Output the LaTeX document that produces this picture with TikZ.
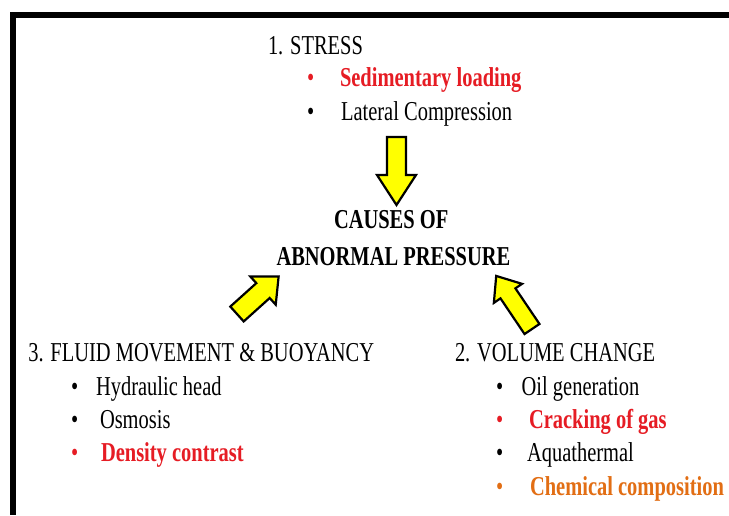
\documentclass[tikz,border=0pt]{standalone}
\usepackage{fontspec}
\setmainfont{Liberation Serif}[FakeStretch=0.75]
\definecolor{tred}{RGB}{230,28,36}
\definecolor{torange}{RGB}{226,110,20}
\definecolor{ayellow}{RGB}{255,255,0}
\tikzset{
  txt/.style={anchor=base west, inner sep=0pt, outer sep=0pt, font=\fontsize{27.3}{32}\selectfont},
  btxt/.style={txt, font=\fontsize{27.3}{32}\selectfont\bfseries},
  bul/.style={txt},
  yarr/.style={fill=ayellow, draw=black, line width=2.2pt, line join=miter},
  framebar/.style={fill=black, draw=none}
}
\newcommand{\yellowarrow}[8]{% tailx taily angle length shaftw headw headlen
  \begin{scope}[shift={(#1,#2)}, rotate=#3]
    \draw[yarr] (0,-#5/2) -- (#4-#7,-#5/2) -- (#4-#7,-#6/2) -- (#4,0) -- (#4-#7,#6/2) -- (#4-#7,#5/2) -- (0,#5/2) -- cycle;
  \end{scope}}
\begin{document}
\begin{tikzpicture}[x=1pt,y=-1pt]
\useasboundingbox (0,0) rectangle (729,515);
\fill[white] (0,0) rectangle (729,515);
% frame
\fill[framebar] (10,12) rectangle (729,18);
\fill[framebar] (10,12) rectangle (16,515);
% stress
\node[txt] (stress) at (268,54.3) {1. STRESS};
\node[bul, text=tred] (b1) at (307,86) {•};
\node[btxt, text=tred] (sed) at (340,86) {Sedimentary loading};
\node[bul] (b2) at (307,120) {•};
\node[txt] (lat) at (341,120) {Lateral Compression};
% centre
\node[btxt] (causes) at (334,228.3) {CAUSES OF};
\node[btxt] (abn) at (276.5,265) {ABNORMAL PRESSURE};
% fluid
\node[txt] (fluid) at (28.3,361.7) {3. FLUID MOVEMENT \& BUOYANCY};
\node[bul] (b3) at (71,395) {•};
\node[txt] (hyd) at (96,395) {Hydraulic head};
\node[bul] (b4) at (71,428.3) {•};
\node[txt] (osm) at (100,428.3) {Osmosis};
\node[bul, text=tred] (b5) at (71,461.7) {•};
\node[btxt, text=tred] (den) at (101,461.7) {Density contrast};
% volume
\node[txt] (vol) at (455,361.7) {2. VOLUME CHANGE};
\node[bul] (b6) at (496,395) {•};
\node[txt] (oil) at (521.7,395) {Oil generation};
\node[bul, text=tred] (b7) at (496,428.3) {•};
\node[btxt, text=tred] (crack) at (529,428.3) {Cracking of gas};
\node[bul] (b8) at (496,461.7) {•};
\node[txt] (aqua) at (527,461.7) {Aquathermal};
\node[bul, text=torange] (b9) at (496,495) {•};
\node[btxt, text=torange] (chem) at (530,495) {Chemical composition};
% arrows
\yellowarrow{396.5}{137}{-90}{68}{19}{39}{30}{}
\yellowarrow{237}{314}{42}{56}{20}{38}{21}{}
\yellowarrow{532}{329}{124}{64}{18}{34}{21}{}
\end{tikzpicture}
\end{document}
